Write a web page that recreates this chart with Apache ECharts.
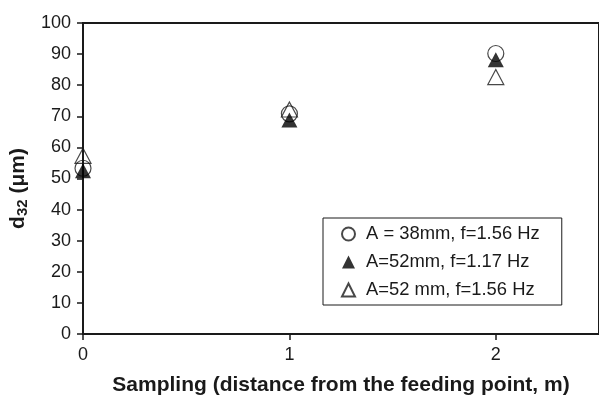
<!DOCTYPE html>
<html>
<head>
<meta charset="utf-8">
<script src="https://cdn.jsdelivr.net/npm/echarts@6/dist/echarts.min.js"></script>
<style>html,body{margin:0;padding:0;background:#fff}#c{width:599px;height:401px}</style>
</head>
<body>
<div id="c"></div>
<script>
const xPositions = [0, 1, 2];
const seriesNames = ['A = 38mm, f=1.56 Hz', 'A=52mm, f=1.17 Hz', 'A=52 mm, f=1.56 Hz'];
const circle38_156 = [53.3, 70.8, 90.2];
const filled52_117 = [52.5, 68.8, 88.2];
const open52_156 = [57.3, 72.2, 82.6];
const yTicks = { min: 0, max: 100, interval: 10 };
const xTicks = { min: 0, max: 2.5, interval: 1 };

const pairs = arr => xPositions.map((x, i) => [x, arr[i]]);
const font = '"Liberation Sans", Arial, sans-serif';
const ink = '#1a1a1a';

const chart = echarts.init(document.getElementById('c'), null, { renderer: 'canvas' });
chart.setOption({
  animation: false,
  backgroundColor: '#fff',
  grid: { left: 83, top: 23, right: -3, bottom: 63, show: true, borderColor: ink, borderWidth: 2 },
  xAxis: {
    type: 'value', min: xTicks.min, max: xTicks.max, interval: xTicks.interval,
    name: 'Sampling (distance from the feeding point, m)',
    nameLocation: 'middle', nameGap: 41,
    nameTextStyle: { fontFamily: font, fontSize: 21, fontWeight: 'bold', color: ink },
    axisLine: { lineStyle: { color: ink, width: 2 } },
    axisTick: { show: true, length: 6, lineStyle: { color: ink, width: 1.5 } },
    axisLabel: { fontFamily: font, fontSize: 18, color: ink, margin: 12, showMaxLabel: false },
    splitLine: { show: false }
  },
  yAxis: {
    type: 'value', min: yTicks.min, max: yTicks.max, interval: yTicks.interval,
    name: '{b|d}{s|32}{b| (μm)}',
    nameLocation: 'middle', nameGap: 51, nameRotate: 90,
    nameTextStyle: {
      padding: [0, 20, 0, 0],
      rich: {
        b: { fontFamily: font, fontSize: 21, fontWeight: 'bold', color: ink },
        s: { fontFamily: font, fontSize: 15, fontWeight: 'bold', color: ink, verticalAlign: 'bottom', padding: [8, 0, 0, 0] }
      }
    },
    axisLine: { show: true, lineStyle: { color: ink, width: 2 } },
    axisTick: { show: true, length: 6, lineStyle: { color: ink, width: 1.5 } },
    axisLabel: { fontFamily: font, fontSize: 18, color: ink, margin: 12 },
    splitLine: { show: false }
  },
  legend: {
    orient: 'vertical', left: 323, top: 218,
    backgroundColor: '#fff', borderColor: ink, borderWidth: 1,
    padding: [6, 22, 5, 18], itemGap: 8, itemWidth: 13, itemHeight: 13,
    textStyle: { fontFamily: font, fontSize: 18.4, color: ink, lineHeight: 20, padding: [0, 0, 0, 6] },
    data: seriesNames
  },
  series: [
    {
      name: seriesNames[0], type: 'scatter', data: pairs(circle38_156), z: 2,
      symbol: 'circle', symbolSize: 16,
      itemStyle: { color: 'rgba(255,255,255,0)', borderColor: ink, borderWidth: 1.2 }
    },
    {
      name: seriesNames[2], type: 'scatter', data: pairs(open52_156), z: 3,
      symbol: 'triangle', symbolSize: [16, 15],
      itemStyle: { color: 'rgba(255,255,255,0)', borderColor: ink, borderWidth: 1.2 }
    },
    {
      name: seriesNames[1], type: 'scatter', data: pairs(filled52_117), z: 4,
      symbol: 'triangle', symbolSize: [16, 15],
      itemStyle: { color: '#000', borderColor: '#000', borderWidth: 0 }
    }
  ]
});
</script>
</body>
</html>
